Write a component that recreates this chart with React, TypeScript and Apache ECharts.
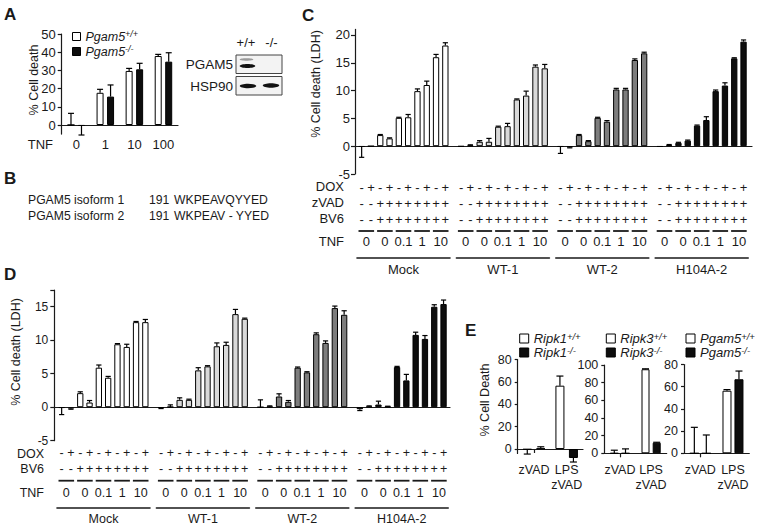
import React, { useEffect, useRef } from 'react';
import * as echarts from 'echarts';

const FONT = '"Liberation Sans", Arial, Helvetica, sans-serif';
const INK = '#1a1a1a';

// ---------- Panel A data ----------
const A_TNF = ['0', '1', '10', '100'];
const A_WT = [0, 17.7, 29.7, 37.9];
const A_WT_ERR = [6.4, 1.9, 1.4, 0.9];
const A_KO = [-0.5, 15.6, 30.6, 34.8];
const A_KO_ERR = [5, 6.4, 3.3, 4.9];
const A_TICKS = [0, 10, 20, 30, 40, 50];

// ---------- Panel B data ----------
const B_NAMES = ['PGAM5 isoform 1', 'PGAM5 isoform 2'];
const B_POS = ['191', '191'];
const B_SEQ = ['WKPEAVQYYED', 'WKPEAV - YYED'];

// ---------- Panels C / D shared ----------
const CELL_LINES = ['Mock', 'WT-1', 'WT-2', 'H104A-2'];
const LINE_COLORS = ['#ffffff', '#d9d9d9', '#7d7d7d', '#0d0d0d'];
const DOX = ['-', '+', '-', '+', '-', '+', '-', '+', '-', '+'];
const ZVAD = ['-', '-', '+', '+', '+', '+', '+', '+', '+', '+'];
const BV6 = ['-', '-', '+', '+', '+', '+', '+', '+', '+', '+'];
const TNF_DOSES = ['0', '0', '0.1', '1', '10'];

// Panel C values (% cell death, LDH)
const C_MOCK = [-0.1, 0, 2.0, 1.4, 5.1, 5.2, 9.9, 11.0, 16.0, 18.1];
const C_MOCK_ERR = [1.9, 0, 0.1, 0.1, 0.1, 0.5, 0.4, 0.7, 0.5, 0.5];
const C_WT1 = [-0.05, 0.15, 0.8, 0.8, 3.5, 3.6, 8.4, 9.1, 14.3, 14.0];
const C_WT1_ERR = [0, 0.1, 0.2, 0.6, 0.1, 0.5, 0.1, 0.8, 0.3, 0.7];
const C_WT2 = [-0.1, -0.2, 2.0, 0.9, 5.1, 4.4, 10.2, 10.2, 15.5, 16.7];
const C_WT2_ERR = [1.2, 0.1, 0.1, 0.1, 0.1, 0.2, 0.2, 0.2, 0.2, 0.2];
const C_H104A = [-0.1, 0.2, 0.6, 1.0, 3.7, 4.7, 9.9, 10.9, 15.8, 18.8];
const C_H104A_ERR = [0, 0.1, 0.1, 0.1, 0.1, 0.6, 0.2, 0.5, 0.1, 0.3];
const C_TICKS = [-5, 0, 5, 10, 15, 20];

// Panel D values
const D_MOCK = [-0.1, -0.2, 2.1, 0.7, 5.9, 4.4, 9.4, 9.0, 12.7, 12.7];
const D_MOCK_ERR = [1.0, 0.1, 0.2, 0.3, 0.4, 0.2, 0.1, 0.4, 0.1, 0.4];
const D_WT1 = [-0.1, 0.05, 1.1, 1.1, 5.5, 6.1, 9.1, 9.3, 13.9, 13.2];
const D_WT1_ERR = [0.1, 0.3, 0.3, 0.1, 0.4, 0.1, 0.5, 0.4, 0.7, 0.1];
const D_WT2 = [0, 0.1, 1.6, 0.8, 5.9, 5.2, 10.9, 9.6, 14.8, 13.8];
const D_WT2_ERR = [1.1, 0.1, 0.4, 0.2, 0.1, 0.1, 0.2, 0.3, 0.3, 0.6];
const D_H104A = [-0.3, 0.1, 0.4, 0.1, 6.0, 4.0, 10.8, 10.2, 15.0, 15.4];
const D_H104A_ERR = [0.2, 0.1, 0.5, 0.05, 0.1, 0.9, 0.4, 0.5, 0.3, 0.6];
const D_TICKS = [-5, 0, 5, 10, 15, 17.5];
const D_LABELS = [-5, 0, 5, 10, 15];

// Panel E values
const E_CATS = ['zVAD', 'LPS\nzVAD'];
const E_RIPK1_WT = [-0.5, 56.6];
const E_RIPK1_WT_ERR = [4, 8.6];
const E_RIPK1_KO = [0.5, -8.0];
const E_RIPK1_KO_ERR = [1.5, 3.6];
const E_RIPK3_WT = [0, 95.2];
const E_RIPK3_WT_ERR = [3.5, 0.5];
const E_RIPK3_KO = [0, 12];
const E_RIPK3_KO_ERR = [5, 0.5];
const E_PGAM5_WT = [0, 56.4];
const E_PGAM5_WT_ERR = [23.4, 1];
const E_PGAM5_KO = [0, 66.7];
const E_PGAM5_KO_ERR = [16.5, 7.4];
const E1_TICKS = [0, 20, 40, 60, 80];
const E2_TICKS = [0, 20, 40, 60, 80, 100];
const E3_TICKS = [0, 20, 40, 60, 80];

// ---------- layout constants ----------
const BAR_PITCH = 9.3;
const GROUP_PITCH = 99.4;
const C_LEFT = 357;
const D_LEFT = 57;
const C_TOP = 29.4, C_H = 144.6;
const D_TOP = 290, D_H = 150.7;

function errSeries(xIdx: number, yIdx: number, vals: number[], errs: number[], offset: number, cap: number) {
  return {
    type: 'custom',
    xAxisIndex: xIdx,
    yAxisIndex: yIdx,
    silent: true,
    clip: false,
    z: 5,
    encode: { x: 0, y: 1 },
    data: vals.map((v, i) => [i, v, errs[i]]),
    renderItem: (_p: any, api: any) => {
      const i = api.value(0);
      const v = api.value(1);
      const e = api.value(2);
      if (!e) return null;
      const end = v >= 0 ? v + e : v - e;
      const p0 = api.coord([i, v]);
      const p1 = api.coord([i, end]);
      const x = p0[0] + offset;
      const st = { stroke: '#000', lineWidth: 1.2 };
      return {
        type: 'group',
        children: [
          { type: 'line', shape: { x1: x, y1: p0[1], x2: x, y2: p1[1] }, style: st },
          { type: 'line', shape: { x1: x - cap, y1: p1[1], x2: x + cap, y2: p1[1] }, style: st },
        ],
      };
    },
  };
}

function barSeries(name: string | undefined, xIdx: number, yIdx: number, vals: number[], color: string, width: number, gap?: string) {
  const s: any = {
    type: 'bar',
    xAxisIndex: xIdx,
    yAxisIndex: yIdx,
    data: vals,
    barWidth: width,
    silent: true,
    clip: false,
    itemStyle: { color, borderColor: '#000', borderWidth: 1 },
  };
  if (name) s.name = name;
  if (gap) s.barGap = gap;
  return s;
}

function txt(text: string, x: number, y: number, size: number, align = 'left', extra: any = {}) {
  return {
    type: 'text',
    x,
    y,
    rotation: extra.rotation || 0,
    silent: true,
    style: {
      text,
      fill: INK,
      fontSize: size,
      fontFamily: FONT,
      fontWeight: extra.bold ? 'bold' : 'normal',
      fontStyle: extra.italic ? 'italic' : 'normal',
      align,
      textAlign: align,
      verticalAlign: 'middle',
      textVerticalAlign: 'middle',
    },
  };
}

function hline(x1: number, x2: number, y: number, w = 1.8) {
  return { type: 'line', silent: true, shape: { x1, y1: y, x2, y2: y }, style: { stroke: INK, lineWidth: w } };
}

function legendFormatter(name: string) {
  const s = name.replace(/^[AE] /, '');
  const m = s.match(/^([A-Za-z0-9]+)(.*)$/);
  if (!m) return s;
  return `{g|${m[1]}}{s|${m[2]}}`;
}

function legendRich(gSize: number, sSize: number, lh: number) {
  return {
    g: { fontStyle: 'italic', fontSize: gSize, fontFamily: FONT, color: INK, lineHeight: lh },
    s: { fontStyle: 'italic', fontSize: sSize, fontFamily: FONT, color: INK, lineHeight: 6, verticalAlign: 'top' },
  };
}

function buildOption() {
  const grid: any[] = [];
  const xAxis: any[] = [];
  const yAxis: any[] = [];
  const series: any[] = [];
  const graphic: any[] = [];

  const axisLineStyle = { color: INK, width: 1.2 };

  // ===== Panel A =====
  grid.push({ left: 61.7, top: 34, width: 116.3, height: 100.1 });
  const aX = xAxis.length;
  xAxis.push({
    gridIndex: 0, type: 'category', data: A_TNF,
    axisLine: { show: true, onZero: true, lineStyle: axisLineStyle },
    axisTick: { show: false },
    axisLabel: { show: false },
  });
  // label-only axis for the TNF doses (kept below the plotting area)
  xAxis.push({
    gridIndex: 0, type: 'category', data: A_TNF, position: 'bottom',
    axisLine: { show: false, onZero: false },
    axisTick: { show: false },
    axisLabel: { interval: 0, margin: 3.4, fontSize: 13, lineHeight: 14, color: INK, fontFamily: FONT },
  });
  const aY = yAxis.length;
  yAxis.push({
    gridIndex: 0, type: 'value', min: -5, max: 50,
    axisLine: { show: true, lineStyle: axisLineStyle },
    axisTick: { show: true, length: 4, customValues: A_TICKS, lineStyle: axisLineStyle },
    axisLabel: { customValues: A_TICKS, margin: 6, fontSize: 13, color: INK, fontFamily: FONT },
    splitLine: { show: false },
  });
  const A_BW = 7;
  series.push(barSeries('A Pgam5+/+', aX, aY, A_WT, '#ffffff', A_BW, '50%'));
  series.push(barSeries('A Pgam5-/-', aX, aY, A_KO, '#0d0d0d', A_BW, '50%'));
  const aOff = (A_BW * 1.5) / 2;
  series.push(errSeries(aX, aY, A_WT, A_WT_ERR, -aOff, 3));
  series.push(errSeries(aX, aY, A_KO, A_KO_ERR, aOff, 3));

  // ===== Panels C and D =====
  const buildPanel = (cfg: any) => {
    const mainGrid = grid.length;
    grid.push({ left: cfg.axisX, top: cfg.top, width: cfg.axisEnd - cfg.axisX, height: cfg.h });
    xAxis.push({
      gridIndex: mainGrid, type: 'category', data: [''],
      axisLine: { show: true, onZero: true, lineStyle: axisLineStyle },
      axisTick: { show: false }, axisLabel: { show: false },
    });
    yAxis.push({
      gridIndex: mainGrid, type: 'value', min: -5, max: cfg.max,
      axisLine: { show: true, lineStyle: axisLineStyle },
      axisTick: { show: true, length: 4, customValues: cfg.ticks, lineStyle: axisLineStyle },
      axisLabel: { customValues: cfg.labels, margin: cfg.labelMargin, fontSize: cfg.tickFont, color: INK, fontFamily: FONT },
      splitLine: { show: false },
    });
    cfg.groups.forEach((grp: any, g: number) => {
      const gi = grid.length;
      const left = cfg.left + g * GROUP_PITCH;
      grid.push({ left, top: cfg.top, width: BAR_PITCH * 10, height: cfg.h });
      const xSign = xAxis.length;
      xAxis.push({
        gridIndex: gi, type: 'category', position: 'bottom',
        data: DOX.map((_d, i) => String(i)),
        axisLine: { show: false, onZero: false }, axisTick: { show: false },
        axisLabel: {
          interval: 0, margin: cfg.signMargin, fontSize: cfg.rowFont, lineHeight: cfg.signLH, color: INK, fontFamily: FONT,
          formatter: (_v: string, i: number) => cfg.rows.map((r: string[]) => r[i]).join('\n'),
        },
      });
      xAxis.push({
        gridIndex: gi, type: 'category', position: 'bottom',
        data: TNF_DOSES.map((_d, i) => String(i)),
        axisLine: { show: false, onZero: false }, axisTick: { show: false },
        axisLabel: {
          interval: 0, margin: cfg.tnfMargin, fontSize: cfg.rowFont, lineHeight: 16, color: INK, fontFamily: FONT,
          formatter: (_v: string, i: number) => TNF_DOSES[i],
        },
      });
      xAxis.push({
        gridIndex: gi, type: 'category', position: 'bottom', offset: cfg.groupOffset,
        data: [CELL_LINES[g]],
        axisLine: { show: true, onZero: false, lineStyle: { color: INK, width: 1.6 } },
        axisTick: { show: false },
        axisLabel: { interval: 0, margin: 4, fontSize: cfg.rowFont, lineHeight: 16, color: INK, fontFamily: FONT },
      });
      const ySub = yAxis.length;
      yAxis.push({ gridIndex: gi, type: 'value', min: -5, max: cfg.max, show: false });
      series.push(barSeries(undefined, xSign, ySub, grp.vals, LINE_COLORS[g], 6.3));
      series.push(errSeries(xSign, ySub, grp.vals, grp.errs, 0, 2.6));
      for (let p = 0; p < 5; p++) {
        const cx = left + (2 * p + 1) * BAR_PITCH;
        graphic.push(hline(cx - 7.8, cx + 7.8, cfg.pairY));
      }
    });
    cfg.rowLabels.forEach((r: any) => graphic.push(txt(r[0], cfg.rowRight, r[1], cfg.rowFont, 'right')));
  };

  buildPanel({
    axisX: 355, axisEnd: 752, top: C_TOP, h: C_H, max: 21, ticks: C_TICKS, labels: C_TICKS,
    labelMargin: 5, tickFont: 13, left: C_LEFT, rowFont: 13,
    signMargin: 5, signLH: 16, tnfMargin: 59.7, groupOffset: 83.3, pairY: 231,
    rows: [DOX, ZVAD, BV6],
    rowRight: 344,
    rowLabels: [['DOX', 186.7], ['zVAD', 202.7], ['BV6', 218.3], ['TNF', 241.7]],
    groups: [
      { vals: C_MOCK, errs: C_MOCK_ERR },
      { vals: C_WT1, errs: C_WT1_ERR },
      { vals: C_WT2, errs: C_WT2_ERR },
      { vals: C_H104A, errs: C_H104A_ERR },
    ],
  });

  buildPanel({
    axisX: 54.3, axisEnd: 450, top: D_TOP, h: D_H, max: 17.5, ticks: D_TICKS, labels: D_LABELS,
    labelMargin: 6, tickFont: 12, left: D_LEFT, rowFont: 12.5,
    signMargin: 5, signLH: 15.6, tnfMargin: 44.6, groupOffset: 66.6, pairY: 480.7,
    rows: [DOX, BV6],
    rowRight: 44,
    rowLabels: [['DOX', 453.5], ['BV6', 469.1], ['TNF', 493.3]],
    groups: [
      { vals: D_MOCK, errs: D_MOCK_ERR },
      { vals: D_WT1, errs: D_WT1_ERR },
      { vals: D_WT2, errs: D_WT2_ERR },
      { vals: D_H104A, errs: D_H104A_ERR },
    ],
  });

  // ===== Panel E =====
  const eSubs = [
    { left: 517.7, width: 65.3, top: 359.5, h: 94, min: -4, max: 80, ticks: E1_TICKS, margin: 9.2, bw: 9, gap: '50%',
      names: ['Ripk1+/+', 'Ripk1-/-'], wt: E_RIPK1_WT, wtE: E_RIPK1_WT_ERR, ko: E_RIPK1_KO, koE: E_RIPK1_KO_ERR },
    { left: 604.3, width: 62.4, top: 365, h: 88.3, min: 0, max: 100, ticks: E2_TICKS, margin: 9.2, bw: 8, gap: '40%',
      names: ['Ripk3+/+', 'Ripk3-/-'], wt: E_RIPK3_WT, wtE: E_RIPK3_WT_ERR, ko: E_RIPK3_KO, koE: E_RIPK3_KO_ERR },
    { left: 684, width: 65.3, top: 364.5, h: 88.8, min: 0, max: 80, ticks: E3_TICKS, margin: 9, bw: 9, gap: '33%',
      names: ['E Pgam5+/+', 'E Pgam5-/-'], wt: E_PGAM5_WT, wtE: E_PGAM5_WT_ERR, ko: E_PGAM5_KO, koE: E_PGAM5_KO_ERR },
  ];
  const legends: any[] = [
    {
      left: 72, top: 29, orient: 'vertical', icon: 'rect', itemWidth: 8, itemHeight: 8, itemGap: 1, padding: 0,
      selectedMode: false, formatter: legendFormatter,
      textStyle: { rich: legendRich(12.5, 9, 15) },
      data: [
        { name: 'A Pgam5+/+', itemStyle: { color: '#fff', borderColor: '#000', borderWidth: 1 } },
        { name: 'A Pgam5-/-', itemStyle: { color: '#0d0d0d', borderColor: '#000', borderWidth: 1 } },
      ],
    },
  ];
  eSubs.forEach((e) => {
    const gi = grid.length;
    grid.push({ left: e.left, top: e.top, width: e.width, height: e.h });
    const xi = xAxis.length;
    xAxis.push({
      gridIndex: gi, type: 'category', data: E_CATS,
      axisLine: { show: true, onZero: true, lineStyle: axisLineStyle },
      axisTick: { show: true, alignWithLabel: true, length: 4, lineStyle: axisLineStyle },
      axisLabel: { show: false },
    });
    xAxis.push({
      gridIndex: gi, type: 'category', data: E_CATS, position: 'bottom',
      axisLine: { show: false, onZero: false },
      axisTick: { show: false },
      axisLabel: { interval: 0, margin: e.margin, fontSize: 12.5, lineHeight: 15, color: INK, fontFamily: FONT },
    });
    const yi = yAxis.length;
    yAxis.push({
      gridIndex: gi, type: 'value', min: e.min, max: e.max,
      axisLine: { show: true, lineStyle: axisLineStyle },
      axisTick: { show: true, length: 3, customValues: e.ticks, lineStyle: axisLineStyle },
      axisLabel: { customValues: e.ticks, margin: 6, fontSize: 12.5, color: INK, fontFamily: FONT },
      splitLine: { show: false },
    });
    series.push(barSeries(e.names[0], xi, yi, e.wt, '#ffffff', e.bw, e.gap));
    series.push(barSeries(e.names[1], xi, yi, e.ko, '#0d0d0d', e.bw, e.gap));
    const off = (e.bw * (1 + parseFloat(e.gap) / 100)) / 2;
    series.push(errSeries(xi, yi, e.wt, e.wtE, -off, 3.5));
    series.push(errSeries(xi, yi, e.ko, e.koE, off, 3.5));
    legends.push({
      left: e.left + 1.5, top: 331, orient: 'vertical', icon: 'rect', itemWidth: 9, itemHeight: 9, itemGap: 0, padding: 0,
      selectedMode: false, formatter: legendFormatter,
      textStyle: { rich: legendRich(13, 9.5, 15) },
      data: [
        { name: e.names[0], itemStyle: { color: '#fff', borderColor: '#000', borderWidth: 1 } },
        { name: e.names[1], itemStyle: { color: '#0d0d0d', borderColor: '#000', borderWidth: 1 } },
      ],
    });
  });

  // ===== graphic decorations / static text =====
  graphic.push(txt('A', 4, 14, 17, 'left', { bold: true }));
  graphic.push(txt('B', 4, 178, 17, 'left', { bold: true }));
  graphic.push(txt('C', 302, 15, 17, 'left', { bold: true }));
  graphic.push(txt('D', 4, 274, 17, 'left', { bold: true }));
  graphic.push(txt('E', 465, 330, 17, 'left', { bold: true }));
  graphic.push(txt('% Cell death', 34, 80, 12.5, 'center', { rotation: Math.PI / 2 }));
  graphic.push(txt('% Cell death (LDH)', 316, 84, 12.5, 'center', { rotation: Math.PI / 2 }));
  graphic.push(txt('% Cell death (LDH)', 16, 352, 12.5, 'center', { rotation: Math.PI / 2 }));
  graphic.push(txt('% Cell Death', 485, 400, 12.5, 'center', { rotation: Math.PI / 2 }));
  graphic.push(txt('TNF', 53, 144, 13, 'right'));
  // western blot
  graphic.push(txt('+/+', 246, 42, 13, 'center'));
  graphic.push(txt('-/-', 271.5, 42, 13, 'center'));
  graphic.push(txt('PGAM5', 233, 64, 13.5, 'right'));
  graphic.push(txt('HSP90', 233, 86, 13.5, 'right'));
  graphic.push({ type: 'rect', silent: true, shape: { x: 236, y: 55, width: 46, height: 18.5 }, style: { fill: '#f3f3f3', stroke: '#444', lineWidth: 1 } });
  graphic.push({ type: 'rect', silent: true, shape: { x: 236, y: 76.5, width: 46, height: 18.5 }, style: { fill: '#f3f3f3', stroke: '#444', lineWidth: 1 } });
  graphic.push({ type: 'ellipse', silent: true, shape: { cx: 246.5, cy: 59.5, rx: 6.8, ry: 1.2 }, style: { fill: '#9a9a9a' } });
  graphic.push({ type: 'ellipse', silent: true, shape: { cx: 247.5, cy: 66, rx: 7.8, ry: 2 }, style: { fill: '#111' } });
  graphic.push({ type: 'ellipse', silent: true, shape: { cx: 248, cy: 86, rx: 8.2, ry: 2.2 }, style: { fill: '#111' } });
  graphic.push({ type: 'ellipse', silent: true, shape: { cx: 271, cy: 85.5, rx: 8.2, ry: 2.2 }, style: { fill: '#111' } });
  // panel B
  B_NAMES.forEach((n, i) => {
    const y = 200 + i * 16;
    graphic.push(txt(n, 28, y, 12.2));
    graphic.push(txt(B_POS[i], 149, y, 12.2));
    graphic.push(txt(B_SEQ[i], 174, y, 12.2));
  });

  return {
    animation: false,
    backgroundColor: '#ffffff',
    textStyle: { fontFamily: FONT, color: INK },
    grid,
    xAxis,
    yAxis,
    legend: legends,
    series,
    graphic: { elements: graphic },
  };
}

export default function App() {
  const ref = useRef<HTMLDivElement>(null);
  useEffect(() => {
    if (!ref.current) return;
    const chart = echarts.init(ref.current, undefined, { renderer: 'svg' });
    chart.setOption(buildOption() as any);
    return () => chart.dispose();
  }, []);
  return (
    <div
      ref={ref}
      style={{ position: 'absolute', left: 0, top: 0, width: 763, height: 528, background: '#fff' }}
    />
  );
}
